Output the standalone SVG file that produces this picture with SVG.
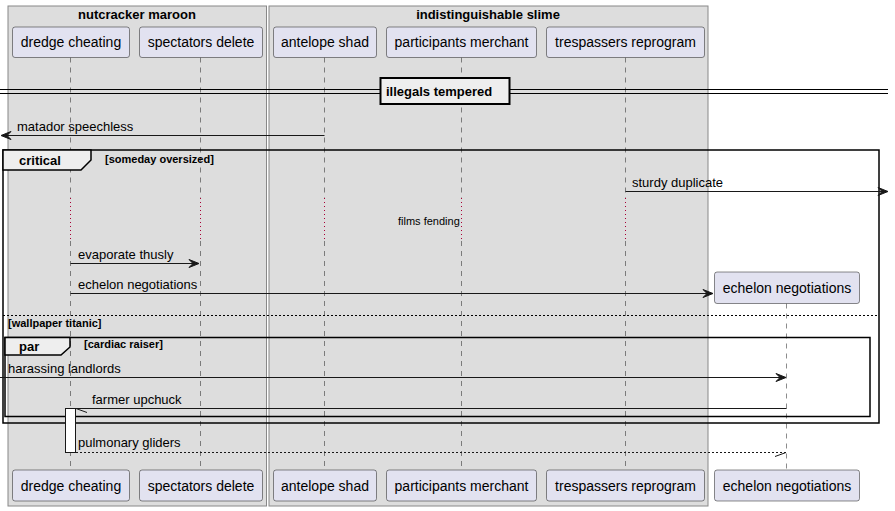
<svg xmlns="http://www.w3.org/2000/svg" width="895" height="511" viewBox="0 0 895 511">
<style>
text{font-family:"Liberation Sans",Arial,sans-serif;fill:#000}
.pt{font-size:14px;text-anchor:middle}
.msg{font-size:13px}
.bt{font-size:13px;font-weight:bold}
.sm{font-size:11px;font-weight:bold}
.part{fill:#E2E2F0;stroke:#181818;stroke-width:0.5}
.ll{stroke:#181818;stroke-width:0.5;stroke-dasharray:5,5;fill:none}
.dl{stroke:#A80036;stroke-width:1;stroke-dasharray:1,3;fill:none}
.grp{fill:#DDDDDD;stroke:#888888;stroke-width:1}
.frame{fill:none;stroke:#000;stroke-width:1.5}
.tab{fill:#EEEEEE;stroke:#000;stroke-width:1.5}
.line{stroke:#181818;stroke-width:1;fill:none}
.dash{stroke:#181818;stroke-width:1;stroke-dasharray:2,2;fill:none}
.head{fill:#181818;stroke:#181818;stroke-width:1}
</style>
<g id="box-nutcracker-maroon">
<rect class="grp" x="8" y="6" width="258.5" height="500"/>
<text class="bt" x="137" y="19" text-anchor="middle">nutcracker maroon</text>
</g>
<g id="box-indistinguishable-slime">
<rect class="grp" x="269" y="6" width="439" height="500"/>
<text class="bt" x="488" y="19" text-anchor="middle">indistinguishable slime</text>
</g>
<g id="lifelines">
<path class="ll" d="M70.5,57.5V198M70.5,241V470"/>
<path class="ll" d="M200.5,57.5V198M200.5,241V470"/>
<path class="ll" d="M324.5,57.5V198M324.5,241V470"/>
<path class="ll" d="M461.5,57.5V198M461.5,241V470"/>
<path class="ll" d="M625.5,57.5V198M625.5,241V470"/>
<path class="ll" d="M786.5,303.5V470"/>
<path class="dl" d="M70.5,198V241M200.5,198V241M324.5,198V241M461.5,198V241M625.5,198V241"/>
</g>
<g id="frame-critical">
<rect class="frame" x="3" y="150" width="876" height="273"/>
<path class="tab" d="M3,150H91V160L81,170H3Z"/>
<text class="bt" x="19" y="165">critical</text>
<text class="sm" x="105" y="163">[someday oversized]</text>
<line x1="3" y1="315.5" x2="879" y2="315.5" stroke="#000" stroke-width="1" stroke-dasharray="2,2"/>
<text class="sm" x="8" y="327">[wallpaper titanic]</text>
</g>
<g id="frame-par">
<rect class="frame" x="5" y="337.5" width="865" height="79"/>
<path class="tab" d="M5,337.5H70V347L61,355H5Z"/>
<text class="bt" x="19" y="351">par</text>
<text class="sm" x="84" y="348">[cardiac raiser]</text>
</g>
<g id="activation">
<rect x="65.5" y="408.5" width="10" height="44" fill="#FFFFFF" stroke="#181818" stroke-width="1"/>
</g>
<g id="connectors">
<line class="line" x1="324.5" y1="135.5" x2="2" y2="135.5"/>
<polygon class="head" points="11,131.5 1,135.5 11,139.5 7,135.5"/>
<text class="msg" x="17" y="131">matador speechless</text>
<line class="line" x1="625.5" y1="191.5" x2="887" y2="191.5"/>
<polygon class="head" points="878,187.5 888,191.5 878,195.5 882,191.5"/>
<text class="msg" x="632" y="187">sturdy duplicate</text>
<text x="398" y="225" font-size="11px">films fending</text>
<line class="line" x1="70.5" y1="263.5" x2="198" y2="263.5"/>
<polygon class="head" points="189,259.5 199,263.5 189,267.5 193,263.5"/>
<text class="msg" x="78" y="259">evaporate thusly</text>
<line class="line" x1="70.5" y1="293.5" x2="712" y2="293.5"/>
<polygon class="head" points="703,289.5 713,293.5 703,297.5 707,293.5"/>
<text class="msg" x="78" y="289">echelon negotiations</text>
<line class="line" x1="0" y1="377.5" x2="785" y2="377.5"/>
<polygon class="head" points="776,373.5 786,377.5 776,381.5 780,377.5"/>
<text class="msg" x="8" y="373">harassing landlords</text>
<line class="line" x1="786.5" y1="408.5" x2="76" y2="408.5"/>
<line class="line" x1="76" y1="408.5" x2="87" y2="412.5"/>
<text class="msg" x="92" y="404">farmer upchuck</text>
<line class="dash" x1="76" y1="452.5" x2="786" y2="452.5"/>
<line class="line" x1="786" y1="452.5" x2="775" y2="456.5"/>
<text class="msg" x="78" y="447">pulmonary gliders</text>
</g>
<g id="divider-illegals-tempered">
<line x1="0" y1="89.5" x2="888" y2="89.5" stroke="#000" stroke-width="1"/>
<line x1="0" y1="93.5" x2="888" y2="93.5" stroke="#000" stroke-width="1"/>
<rect x="380.5" y="78" width="129" height="26" fill="#EEEEEE" stroke="#000" stroke-width="2"/>
<text class="bt" x="386" y="96">illegals tempered</text>
</g>
<g id="p-dredge-cheating">
<rect class="part" x="12.5" y="27" width="117" height="30.5" rx="2.5"/>
<text class="pt" x="71" y="47">dredge cheating</text>
<rect class="part" x="12.5" y="470" width="117" height="31" rx="2.5"/>
<text class="pt" x="71" y="491">dredge cheating</text>
</g>
<g id="p-spectators-delete">
<rect class="part" x="139.5" y="27" width="123" height="30.5" rx="2.5"/>
<text class="pt" x="201" y="47">spectators delete</text>
<rect class="part" x="139.5" y="470" width="123" height="31" rx="2.5"/>
<text class="pt" x="201" y="491">spectators delete</text>
</g>
<g id="p-antelope-shad">
<rect class="part" x="273.5" y="27" width="103" height="30.5" rx="2.5"/>
<text class="pt" x="325" y="47">antelope shad</text>
<rect class="part" x="273.5" y="470" width="103" height="31" rx="2.5"/>
<text class="pt" x="325" y="491">antelope shad</text>
</g>
<g id="p-participants-merchant">
<rect class="part" x="386.5" y="27" width="150" height="30.5" rx="2.5"/>
<text class="pt" x="461.5" y="47">participants merchant</text>
<rect class="part" x="386.5" y="470" width="150" height="31" rx="2.5"/>
<text class="pt" x="461.5" y="491">participants merchant</text>
</g>
<g id="p-trespassers-reprogram">
<rect class="part" x="546.5" y="27" width="158" height="30.5" rx="2.5"/>
<text class="pt" x="625.5" y="47">trespassers reprogram</text>
<rect class="part" x="546.5" y="470" width="158" height="31" rx="2.5"/>
<text class="pt" x="625.5" y="491">trespassers reprogram</text>
</g>
<g id="p-echelon-negotiations">
<rect class="part" x="714.5" y="272" width="145" height="31.5" rx="2.5"/>
<text class="pt" x="787" y="293">echelon negotiations</text>
<rect class="part" x="714.5" y="470" width="145" height="31" rx="2.5"/>
<text class="pt" x="787" y="491">echelon negotiations</text>
</g>
</svg>
